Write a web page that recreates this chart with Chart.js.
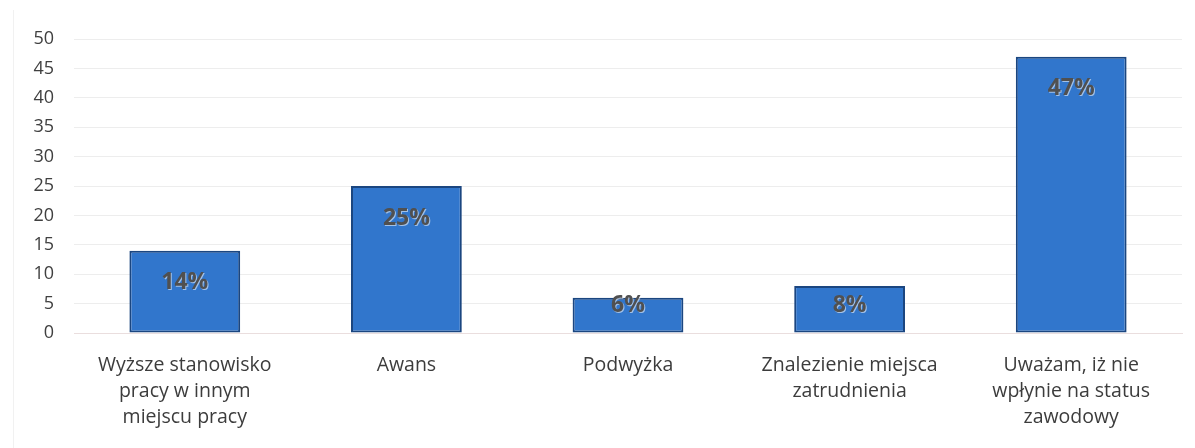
<!DOCTYPE html>
<html><head><meta charset="utf-8">
<script src="https://cdn.jsdelivr.net/npm/chart.js@4/dist/chart.umd.min.js"></script>
<style>html,body{margin:0;padding:0;background:#fff}#wrap{width:1195px;height:448px}</style>
</head><body><div id="wrap"><canvas id="c" width="1195" height="448"></canvas></div>
<script>
const categories = [
  ["Wyższe stanowisko","pracy w innym","miejscu pracy"],
  ["Awans"],
  ["Podwyżka"],
  ["Znalezienie miejsca","zatrudnienia"],
  ["Uważam, iż nie","wpłynie na status","zawodowy"]
];
const values = [14, 25, 6, 8, 47];
const valueLabels = ["14%", "25%", "6%", "8%", "47%"];
const yTicks = [0,5,10,15,20,25,30,35,40,45,50];

const labelPlugin = {
  id: 'inLabels',
  beforeDraw(chart) {
    const ctx = chart.ctx;
    ctx.save();
    ctx.strokeStyle = '#f1f1f1';
    ctx.lineWidth = 1;
    ctx.beginPath();
    ctx.moveTo(13.5, 10);
    ctx.lineTo(13.5, 448);
    ctx.stroke();
    ctx.restore();
  },
  afterDatasetsDraw(chart) {
    const ctx = chart.ctx;
    const meta = chart.getDatasetMeta(0);
    const base = chart.scales.y.getPixelForValue(0);
    ctx.save();
    ctx.font = 'bold 23px "Open Sans", sans-serif';
    ctx.textAlign = 'center';
    ctx.textBaseline = 'middle';
    meta.data.forEach((bar, i) => {
      const y = Math.min(bar.y + 32, base - 28);
      ctx.fillStyle = 'rgba(255,255,255,0.55)';
      ctx.fillText(valueLabels[i], bar.x + 1, y + 1);
      ctx.fillStyle = '#505050';
      ctx.fillText(valueLabels[i], bar.x, y);
    });
    ctx.restore();
  }
};

const ctx = document.getElementById('c').getContext('2d');
new Chart(ctx, {
  type: 'bar',
  data: {
    labels: categories,
    datasets: [{
      data: values,
      backgroundColor: '#3176cc',
      borderColor: '#1b4680',
      borderWidth: 2,
      borderSkipped: false,
      categoryPercentage: 1,
      barPercentage: 0.5
    }]
  },
  options: {
    responsive: false,
    animation: false,
    devicePixelRatio: 1,
    layout: { padding: { top: 39, right: 13, left: 12, bottom: 0 } },
    plugins: { legend: { display: false }, tooltip: { enabled: false } },
    scales: {
      y: {
        min: 0, max: 50,
        afterBuildTicks(s) { s.ticks = yTicks.map(v => ({ value: v })); },
        afterFit(s) { s.width = 62; },
        grid: { color: '#ededed', drawTicks: false, lineWidth: 1 },
        border: { display: false },
        ticks: { color: '#404040', font: { family: '"Open Sans", sans-serif', size: 18 }, padding: 20 }
      },
      x: {
        afterFit(s) { s.height = 115; },
        grid: { display: false },
        border: { color: '#eadede' },
        ticks: { color: '#3c3c3c', font: { family: '"Open Sans", sans-serif', size: 19.5, lineHeight: 1.34 }, padding: 11, maxRotation: 0, autoSkip: false }
      }
    }
  },
  plugins: [labelPlugin]
});
</script></body></html>
